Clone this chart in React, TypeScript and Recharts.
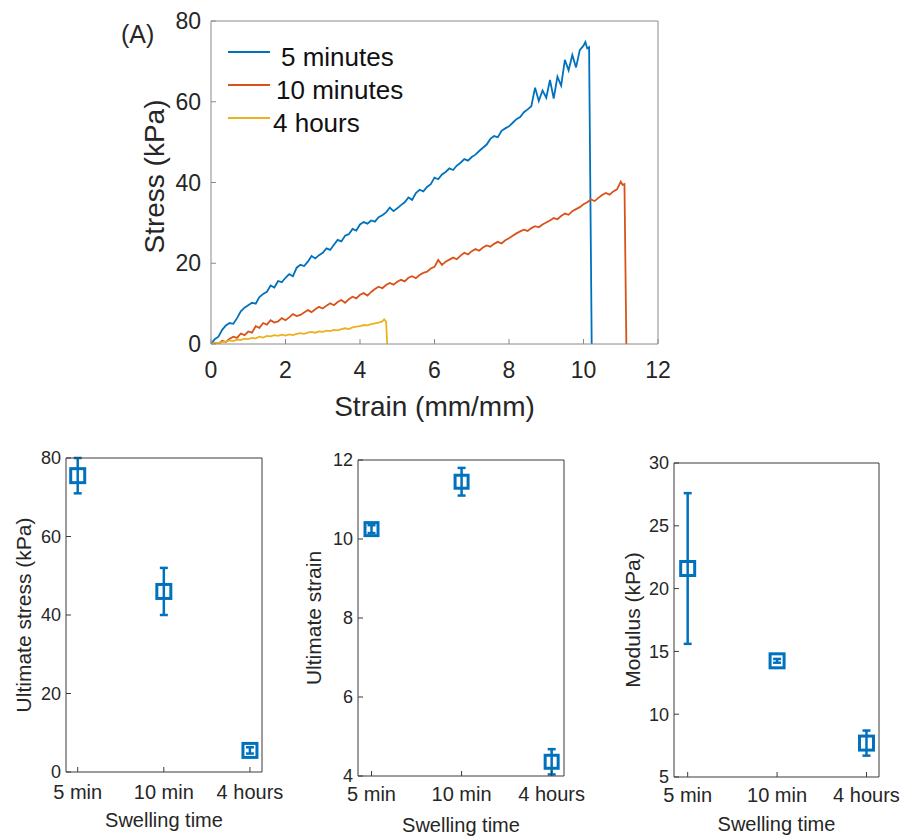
import React from 'react';
import { LineChart, Line, XAxis, YAxis, ScatterChart, Scatter, ErrorBar } from 'recharts';

const FONT = '"Liberation Sans", Arial, Helvetica, sans-serif';
const TEXT = '#262626';
const BLUE = '#0072BD';
const ORANGE = '#D95319';
const YELLOW = '#EDB120';

// stress-strain curves: [strain (mm/mm), stress (kPa)]
const curve5min: [number, number][] = [
  [0, 0], [0.1, 1.2], [0.2, 1.8], [0.3, 3.5], [0.4, 4.6], [0.5, 5.2], [0.6, 5.0], [0.7, 6.4], [0.8, 8.1], [0.9, 9.0],
  [1.0, 9.6], [1.1, 10.2], [1.2, 10.0], [1.3, 11.6], [1.4, 12.4], [1.5, 12.9], [1.6, 14.5], [1.7, 14.0], [1.8, 15.6], [1.9, 15.3],
  [2.0, 16.4], [2.1, 17.3], [2.2, 16.8], [2.3, 18.9], [2.4, 19.6], [2.5, 19.3], [2.6, 20.4], [2.7, 21.8], [2.8, 21.2], [2.9, 22.0],
  [3.0, 22.6], [3.1, 23.7], [3.2, 23.3], [3.3, 24.6], [3.4, 25.8], [3.5, 25.4], [3.6, 26.8], [3.7, 27.2], [3.8, 28.5], [3.9, 28.1],
  [4.0, 29.6], [4.1, 30.2], [4.2, 29.8], [4.3, 30.6], [4.4, 30.3], [4.5, 31.4], [4.6, 31.9], [4.7, 32.6], [4.8, 33.8], [4.9, 32.9],
  [5.0, 33.6], [5.1, 34.4], [5.2, 35.1], [5.3, 36.3], [5.4, 35.7], [5.5, 37.4], [5.6, 38.2], [5.7, 37.8], [5.8, 38.9], [5.9, 39.6],
  [6.0, 41.2], [6.1, 40.8], [6.2, 42.0], [6.3, 42.6], [6.4, 43.5], [6.5, 43.1], [6.6, 44.2], [6.7, 44.9], [6.8, 45.8], [6.9, 45.4],
  [7.0, 46.3], [7.1, 46.9], [7.2, 47.8], [7.3, 48.6], [7.4, 49.4], [7.5, 50.8], [7.6, 51.5], [7.7, 51.2], [7.8, 52.8], [7.9, 53.4],
  [8.0, 53.9], [8.1, 54.8], [8.2, 55.7], [8.3, 56.2], [8.4, 57.4], [8.5, 58.1], [8.6, 58.9], [8.7, 63.5], [8.8, 60.2], [8.9, 62.8],
  [9.0, 61.0], [9.1, 65.4], [9.2, 60.8], [9.3, 66.2], [9.4, 64.0], [9.5, 70.4], [9.6, 67.8], [9.7, 71.6], [9.8, 68.5], [9.9, 72.8],
  [10.0, 73.9], [10.05, 74.8], [10.1, 73.2], [10.15, 73.5], [10.22, 0],
];

const curve10min: [number, number][] = [
  [0, 0], [0.1, 0.2], [0.2, 0.1], [0.3, 0.8], [0.4, 0.5], [0.5, 1.3], [0.6, 1.8], [0.7, 1.5], [0.8, 2.6], [0.9, 2.2],
  [1.0, 3.1], [1.1, 2.8], [1.2, 4.4], [1.3, 4.0], [1.4, 5.2], [1.5, 4.8], [1.6, 5.9], [1.7, 5.3], [1.8, 5.6], [1.9, 6.4],
  [2.0, 5.9], [2.1, 6.6], [2.2, 7.4], [2.3, 6.9], [2.4, 7.2], [2.5, 7.8], [2.6, 8.4], [2.7, 7.9], [2.8, 8.6], [2.9, 9.2],
  [3.0, 8.8], [3.1, 9.5], [3.2, 10.1], [3.3, 9.6], [3.4, 10.4], [3.5, 10.9], [3.6, 10.2], [3.7, 11.1], [3.8, 11.7], [3.9, 11.3],
  [4.0, 12.2], [4.1, 12.6], [4.2, 12.0], [4.3, 12.9], [4.4, 13.6], [4.5, 14.2], [4.6, 13.8], [4.7, 14.6], [4.8, 15.1], [4.9, 14.7],
  [5.0, 15.4], [5.1, 15.9], [5.2, 15.5], [5.3, 16.4], [5.4, 16.8], [5.5, 16.3], [5.6, 17.1], [5.7, 17.6], [5.8, 17.9], [5.9, 18.7],
  [6.0, 19.1], [6.1, 20.8], [6.2, 19.6], [6.3, 20.4], [6.4, 20.9], [6.5, 21.4], [6.6, 21.0], [6.7, 21.9], [6.8, 22.6], [6.9, 22.2],
  [7.0, 23.0], [7.1, 23.5], [7.2, 23.1], [7.3, 23.9], [7.4, 24.4], [7.5, 24.1], [7.6, 24.8], [7.7, 25.3], [7.8, 24.9], [7.9, 25.7],
  [8.0, 26.2], [8.1, 26.8], [8.2, 27.4], [8.3, 27.9], [8.4, 28.3], [8.5, 28.0], [8.6, 28.7], [8.7, 29.2], [8.8, 28.9], [8.9, 29.6],
  [9.0, 30.1], [9.1, 30.6], [9.2, 31.2], [9.3, 30.9], [9.4, 31.7], [9.5, 32.3], [9.6, 32.0], [9.7, 32.9], [9.8, 33.4], [9.9, 33.9],
  [10.0, 34.6], [10.1, 35.1], [10.2, 35.8], [10.3, 35.4], [10.4, 36.2], [10.5, 36.9], [10.6, 37.4], [10.7, 37.0], [10.8, 37.8], [10.9, 38.3],
  [11.0, 40.2], [11.05, 39.4], [11.1, 39.6], [11.15, 0],
];

const curve4h: [number, number][] = [
  [0, 0], [0.1, 0.3], [0.2, 0.2], [0.3, 0.5], [0.4, 0.6], [0.5, 0.9], [0.6, 0.7], [0.7, 1.1], [0.8, 1.0], [0.9, 1.3],
  [1.0, 1.2], [1.1, 1.5], [1.2, 1.4], [1.3, 1.8], [1.4, 1.6], [1.5, 2.0], [1.6, 1.9], [1.7, 2.2], [1.8, 2.0], [1.9, 2.3],
  [2.0, 2.1], [2.1, 2.4], [2.2, 2.2], [2.3, 2.5], [2.4, 2.7], [2.5, 2.5], [2.6, 2.8], [2.7, 3.0], [2.8, 2.8], [2.9, 3.1],
  [3.0, 3.0], [3.1, 3.3], [3.2, 3.2], [3.3, 3.5], [3.4, 3.4], [3.5, 3.7], [3.6, 3.9], [3.7, 3.7], [3.8, 4.1], [3.9, 4.3],
  [4.0, 4.4], [4.1, 4.7], [4.2, 4.6], [4.3, 4.9], [4.4, 5.1], [4.5, 5.3], [4.6, 5.6], [4.65, 6.1], [4.7, 5.5], [4.73, 0],
];

const seriesNames = ['5 minutes', '10 minutes', '4 hours'];
const strainTicks = [0, 2, 4, 6, 8, 10, 12];
const stressTicks = [0, 20, 40, 60, 80];

const swellingTimes = ['5 min', '10 min', '4 hours'];
const ultimateStress = [75.5, 46, 5.5];
const ultimateStressErr = [4.5, 6, 0.8];
const ultimateStrain = [10.25, 11.45, 4.36];
const ultimateStrainErr = [0.1, 0.35, 0.32];
const modulus = [21.6, 14.25, 7.7];
const modulusErr = [6.0, 0.15, 1.0];

const toPoints = (c: [number, number][]) => c.map(([x, y]) => ({ x, y }));

const xTitle = (text: string, dy: number, size: number) => (props: any) => {
  const vb = props.viewBox;
  return (
    <text x={vb.x + vb.width / 2} y={vb.y + dy} textAnchor="middle" fontSize={size} fontFamily={FONT} fill={TEXT}>
      {text}
    </text>
  );
};

const yTitle = (text: string, dx: number, dy: number, size: number) => (props: any) => {
  const vb = props.viewBox;
  const cx = vb.x + dx;
  const cy = vb.y + vb.height / 2 + dy;
  return (
    <text x={cx} y={cy} transform={`rotate(-90 ${cx} ${cy})`} textAnchor="middle" dominantBaseline="central"
      fontSize={size} fontFamily={FONT} fill={TEXT}>
      {text}
    </text>
  );
};

function StressStrainChart() {
  const frame = '#8a8a8a';
  const tick = { fill: TEXT, fontSize: 23, fontFamily: FONT };
  const colors = [BLUE, ORANGE, YELLOW];
  const curves = [curve5min, curve10min, curve4h];
  const legendX = [281, 276, 273];
  return (
    <div style={{ position: 'absolute', left: 0, top: 0, width: 700, height: 430 }}>
      <LineChart width={700} height={430} margin={{ top: 20, right: 41, bottom: 6, left: 141 }}>
        <XAxis type="number" dataKey="x" domain={[0, 12]} ticks={strainTicks} allowDataOverflow interval={0}
          height={80} tickSize={-5} tickMargin={23} stroke={frame} tick={tick}
          label={{ content: xTitle('Strain (mm/mm)', 72, 28) }} />
        <XAxis xAxisId="top" orientation="top" type="number" domain={[0, 12]} ticks={strainTicks} allowDataOverflow
          height={1} tickSize={-5} tick={false} stroke={frame} />
        <YAxis type="number" domain={[0, 80]} ticks={stressTicks} allowDataOverflow interval={0}
          width={70} tickSize={-5} tickMargin={15} stroke={frame} tick={tick}
          label={{ content: yTitle('Stress (kPa)', 13, -6, 28) }} />
        <YAxis yAxisId="right" orientation="right" type="number" domain={[0, 80]} ticks={stressTicks} allowDataOverflow
          width={1} tickSize={-5} tick={false} stroke={frame} />
        {curves.map((c, i) => (
          <Line key={seriesNames[i]} name={seriesNames[i]} data={toPoints(c)} dataKey="y" type="linear"
            stroke={colors[i]} strokeWidth={1.8} dot={false} isAnimationActive={false} />
        ))}
      </LineChart>
      <div style={{ position: 'absolute', left: 121, top: 20, fontSize: 25, fontFamily: FONT, color: TEXT }}>(A)</div>
      {seriesNames.map((n, i) => (
        <div key={n} style={{ position: 'absolute', left: 0, top: [52, 85, 118][i] - 20, height: 40, width: 420 }}>
          <svg width={280} height={40} style={{ position: 'absolute', left: 0, top: 0 }}>
            <line x1={228} x2={270} y1={20} y2={20} stroke={colors[i]} strokeWidth={2} />
          </svg>
          <span style={{ position: 'absolute', left: legendX[i], top: 10, fontSize: 26, lineHeight: '30px',
            fontFamily: FONT, color: '#111', whiteSpace: 'nowrap' }}>{n}</span>
        </div>
      ))}
    </div>
  );
}

interface PanelProps {
  left: number;
  width: number;
  values: number[];
  errors: number[];
  yDomain: [number, number];
  yTicks: number[];
  xDomain: [number, number];
  title: string;
  margin: { top: number; right: number; bottom: number; left: number };
  yAxisWidth: number;
  xAxisHeight: number;
  xTickMargin: number;
  titleDx: number;
  titleDy: number;
  box: number;
}

function SwellingPanel(p: PanelProps) {
  const frame = '#3a3a3a';
  const xTick = { fill: TEXT, fontSize: 20, fontFamily: FONT };
  const yTick = { fill: TEXT, fontSize: 18, fontFamily: FONT };
  const data = p.values.map((v, i) => ({ x: i + 1, y: v, err: p.errors[i] }));
  const square = (s: any) => (
    <rect x={s.cx - p.box / 2} y={s.cy - p.box / 2} width={p.box} height={p.box}
      fill="none" stroke={BLUE} strokeWidth={3} />
  );
  return (
    <div style={{ position: 'absolute', left: p.left, top: 440 }}>
      <ScatterChart width={p.width} height={396}
        margin={{ ...p.margin, top: p.margin.top - 1, right: p.margin.right - 1 }}>
        <XAxis type="number" dataKey="x" domain={p.xDomain} ticks={[1, 2, 3]} allowDataOverflow interval={0}
          tickFormatter={(v: number) => swellingTimes[v - 1]} height={p.xAxisHeight}
          tickSize={-5} tickMargin={p.xTickMargin} stroke={frame} tick={xTick}
          label={{ content: xTitle('Swelling time', p.titleDy, 20) }} />
        <XAxis xAxisId="top" orientation="top" type="number" domain={p.xDomain} ticks={[1, 2, 3]} allowDataOverflow
          height={1} tickSize={-5} tick={false} stroke={frame} />
        <YAxis type="number" dataKey="y" domain={p.yDomain} ticks={p.yTicks} allowDataOverflow interval={0}
          width={p.yAxisWidth} tickSize={-5} tickMargin={10} stroke={frame} tick={yTick}
          label={{ content: yTitle(p.title, p.titleDx, 0, 21) }} />
        <YAxis yAxisId="right" orientation="right" type="number" domain={p.yDomain} ticks={p.yTicks} allowDataOverflow
          width={1} tickSize={-5} tick={false} stroke={frame} />
        <Scatter data={data} shape={square} isAnimationActive={false}>
          <ErrorBar dataKey="err" direction="y" width={4} strokeWidth={2.5} stroke={BLUE} />
        </Scatter>
      </ScatterChart>
    </div>
  );
}

export default function App() {
  return (
    <div style={{ position: 'absolute', left: 0, top: 0, width: 901, height: 836, background: '#fff', overflow: 'hidden' }}>
      <StressStrainChart />
      <SwellingPanel left={0} width={300} values={ultimateStress} errors={ultimateStressErr}
        yDomain={[0, 80]} yTicks={[0, 20, 40, 60, 80]} xDomain={[0.864, 3.14]} title="Ultimate stress (kPa)"
        margin={{ top: 18, right: 38, bottom: 4, left: 10 }} yAxisWidth={56} xAxisHeight={60} xTickMargin={18}
        titleDx={13} titleDy={55} box={14} />
      <SwellingPanel left={300} width={300} values={ultimateStrain} errors={ultimateStrainErr}
        yDomain={[4, 12]} yTicks={[4, 6, 8, 10, 12]} xDomain={[0.85, 3.137]} title="Ultimate strain"
        margin={{ top: 20, right: 36, bottom: 4, left: 8 }} yAxisWidth={50} xAxisHeight={56} xTickMargin={16}
        titleDx={5} titleDy={56} box={13} />
      <SwellingPanel left={600} width={301} values={modulus} errors={modulusErr}
        yDomain={[5, 30]} yTicks={[5, 10, 15, 20, 25, 30]} xDomain={[0.847, 3.14]} title="Modulus (kPa)"
        margin={{ top: 23, right: 22, bottom: 4, left: 14 }} yAxisWidth={60} xAxisHeight={55} xTickMargin={16}
        titleDx={18} titleDy={54} box={14} />
    </div>
  );
}
